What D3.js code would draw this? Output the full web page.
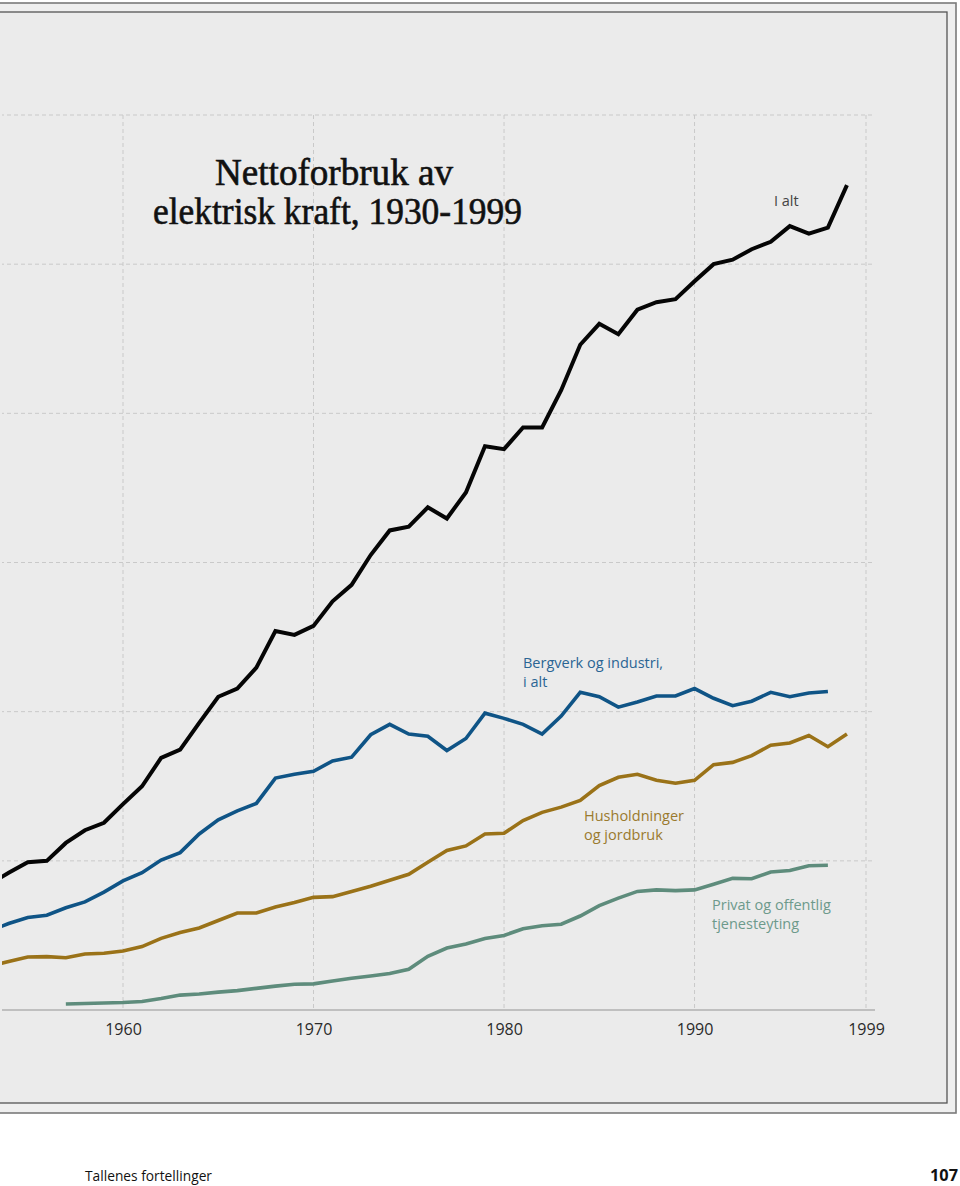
<!DOCTYPE html>
<html>
<head>
<meta charset="utf-8">
<script src="https://cdn.jsdelivr.net/npm/d3@7"></script>
<style>
  html, body { margin: 0; padding: 0; background: #ffffff; }
  svg { display: block; }
</style>
</head>
<body>
<svg id="chart" width="960" height="1186"></svg>
<script>
// ---- Data (TWh) ----
const totalYears = d3.range(1953, 1999);
const totalValues = [16.9, 18.4, 19.8, 20.0, 22.4, 24.1, 25.1, 27.6, 30.0, 33.8, 34.9, 38.5, 42.0, 43.1, 45.9, 50.8, 50.3, 51.5, 54.8, 57.0, 61.0, 64.3, 64.8, 67.4, 65.9, 69.4, 75.6, 75.2, 78.1, 78.1, 83.1, 89.2, 92.0, 90.6, 93.9, 94.9, 95.3, 97.7, 100.0, 100.6, 102.0, 103.0, 105.1, 104.1, 104.9, 110.6];

const industryYears = d3.range(1953, 1998);
const industryValues = [10.6, 11.6, 12.4, 12.7, 13.7, 14.5, 15.8, 17.3, 18.4, 20.1, 21.1, 23.6, 25.5, 26.7, 27.7, 31.1, 31.6, 32.0, 33.4, 33.9, 36.9, 38.3, 37.0, 36.7, 34.8, 36.4, 39.8, 39.1, 38.3, 37.0, 39.4, 42.6, 42.0, 40.6, 41.3, 42.1, 42.1, 43.1, 41.8, 40.8, 41.4, 42.6, 42.0, 42.5, 42.7];

const householdYears = d3.range(1953, 1999);
const householdValues = [5.9, 6.5, 7.1, 7.15, 7.0, 7.5, 7.6, 7.9, 8.5, 9.6, 10.4, 11.0, 12.0, 13.0, 13.0, 13.8, 14.4, 15.1, 15.2, 15.9, 16.6, 17.4, 18.2, 19.8, 21.4, 22.0, 23.6, 23.7, 25.4, 26.5, 27.2, 28.1, 30.1, 31.2, 31.6, 30.8, 30.4, 30.8, 32.9, 33.2, 34.1, 35.5, 35.8, 36.8, 35.3, 37.0];

const serviceYears = d3.range(1957, 1998);
const serviceValues = [0.8, 0.87, 0.94, 1.0, 1.14, 1.54, 2.0, 2.15, 2.4, 2.6, 2.9, 3.2, 3.45, 3.5, 3.9, 4.25, 4.55, 4.9, 5.45, 7.2, 8.3, 8.85, 9.6, 10.0, 10.9, 11.3, 11.5, 12.6, 14.0, 15.0, 15.9, 16.1, 16.0, 16.1, 16.85, 17.65, 17.6, 18.5, 18.7, 19.35, 19.4];

const xTickYears = [1960, 1970, 1980, 1990, 1999];
const xTickLabels = ["1960", "1970", "1980", "1990", "1999"];
const yGridValues = [20, 40, 60, 80, 100, 120];

const seriesNames = ["I alt", "Bergverk og industri, i alt", "Husholdninger og jordbruk", "Privat og offentlig tjenesteyting"];
const titleLines = ["Nettoforbruk av", "elektrisk kraft, 1930-1999"];

// ---- Layout ----
const svg = d3.select("#chart");
const x = d3.scaleLinear().domain([1960, 1999]).range([123, 866]);
const y = d3.scaleLinear().domain([0, 120]).range([1010, 115]);

// frame
svg.append("rect").attr("x", -20).attr("y", 3).attr("width", 976).attr("height", 1110)
  .attr("fill", "#efefef").attr("stroke", "#7a7a7a").attr("stroke-width", 1.6);
svg.append("rect").attr("x", -20).attr("y", 12).attr("width", 967).attr("height", 1091)
  .attr("fill", "#ebebeb").attr("stroke", "#555").attr("stroke-width", 1.3);

const defs = svg.append("defs");
defs.append("clipPath").attr("id", "plotclip")
  .append("rect").attr("x", 2).attr("y", 0).attr("width", 940).attr("height", 1100);

const g = svg.append("g").attr("clip-path", "url(#plotclip)");

// horizontal dashed grid
g.selectAll("line.hgrid").data(yGridValues).enter().append("line")
  .attr("class", "hgrid")
  .attr("x1", 0).attr("x2", 873)
  .attr("y1", d => y(d)).attr("y2", d => y(d))
  .attr("stroke", "#c9c9c9").attr("stroke-width", 1).attr("stroke-dasharray", "4,3");

// vertical dashed grid
g.selectAll("line.vgrid").data(xTickYears).enter().append("line")
  .attr("class", "vgrid")
  .attr("x1", d => x(d)).attr("x2", d => x(d))
  .attr("y1", y(120)).attr("y2", y(0))
  .attr("stroke", "#c9c9c9").attr("stroke-width", 1).attr("stroke-dasharray", "4,3");

// x axis
const xAxis = d3.axisBottom(x).tickValues(xTickYears).tickFormat((d, i) => xTickLabels[i]).tickSize(0).tickPadding(14);
const ax = svg.append("g").attr("transform", `translate(0,${y(0)})`).call(xAxis);
ax.select(".domain").remove();
ax.selectAll("text").attr("font-family", "'Open Sans', sans-serif").attr("font-size", 16).attr("fill", "#2a2a2a");
g.append("line").attr("x1", 0).attr("x2", 875).attr("y1", y(0)).attr("y2", y(0))
  .attr("stroke", "#b0b0b0").attr("stroke-width", 1.3);

// lines
const series = [
  { years: serviceYears, values: serviceValues, color: "#5e8c7c", width: 3.6 },
  { years: householdYears, values: householdValues, color: "#9a7218", width: 3.6 },
  { years: industryYears, values: industryValues, color: "#0f5486", width: 3.6 },
  { years: totalYears, values: totalValues, color: "#050505", width: 4 }
];
const line = d3.line().x(d => x(d[0])).y(d => y(d[1]));
series.forEach(s => {
  g.append("path")
    .datum(s.years.map((yr, i) => [yr, s.values[i]]))
    .attr("d", line)
    .attr("fill", "none")
    .attr("stroke", s.color)
    .attr("stroke-width", s.width)
    .attr("stroke-linejoin", "miter")
    .attr("stroke-linecap", "butt");
});

// series labels
const lab = (lines, xx, yy, color) => {
  const t = svg.append("text").attr("font-family", "'Open Sans', sans-serif").attr("font-size", 14.5).attr("fill", color);
  lines.forEach((l, i) => t.append("tspan").attr("x", xx).attr("y", yy + i * 19).text(l));
};
lab(["I alt"], 774, 206, "#444");
lab(["Bergverk og industri,", "i alt"], 523, 668, "#2a6594");
lab(["Husholdninger", "og jordbruk"], 584, 821, "#9a7a2e");
lab(["Privat og offentlig", "tjenesteyting"], 712, 910, "#6d9a8b");

// title
const title = svg.append("g");
title.append("text").attr("x", 334).attr("y", 185).attr("text-anchor", "middle")
  .attr("font-family", "'Liberation Serif', serif").attr("font-size", 37).attr("fill", "#111")
  .attr("stroke", "#111").attr("stroke-width", 0.6)
  .attr("textLength", 238).attr("lengthAdjust", "spacingAndGlyphs").text(titleLines[0]);
title.append("text").attr("x", 337.5).attr("y", 224).attr("text-anchor", "middle")
  .attr("font-family", "'Liberation Serif', serif").attr("font-size", 37).attr("fill", "#111")
  .attr("stroke", "#111").attr("stroke-width", 0.6)
  .attr("textLength", 369).attr("lengthAdjust", "spacingAndGlyphs").text(titleLines[1]);

// footer
svg.append("text").attr("x", 85).attr("y", 1181)
  .attr("font-family", "'Open Sans', sans-serif").attr("font-size", 15).attr("fill", "#111")
  .attr("textLength", 127).attr("lengthAdjust", "spacingAndGlyphs").text("Tallenes fortellinger");
svg.append("text").attr("x", 958).attr("y", 1181).attr("text-anchor", "end")
  .attr("font-family", "'Open Sans', sans-serif").attr("font-size", 16).attr("font-weight", "bold").attr("fill", "#111")
  .attr("textLength", 28).attr("lengthAdjust", "spacingAndGlyphs").text("107");
</script>
</body>
</html>
